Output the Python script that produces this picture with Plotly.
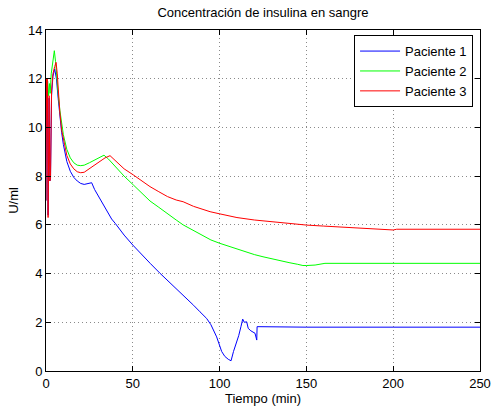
import plotly.graph_objects as go

# Paciente 1
t1 = [0, 0.3, 0.8, 1.2, 1.8, 2.2, 2.6, 3.2, 4, 5, 6, 7, 8, 9, 10, 12, 14, 16, 18, 20, 22, 24,
      26.3, 28, 31, 34, 37.8, 40, 45, 50, 55, 60, 65.7, 70, 75, 80, 85, 88.7, 92.5, 95, 98.3,
      101.2, 103, 105, 106.6, 108, 109.8, 111, 112.3, 113.3, 114.2, 115.6, 116.5, 118, 120.4,
      121.4, 121.6, 150, 200, 250]
y1 = [7.0, 11.9, 11.9, 6.4, 11.2, 7.8, 7.9, 11.3, 12.1, 12.4, 12.0, 11.2, 10.4, 9.8, 9.3, 8.6,
      8.2, 7.95, 7.8, 7.7, 7.66, 7.68, 7.73, 7.45, 7.08, 6.7, 6.24, 6.05, 5.58, 5.17, 4.78, 4.42,
      4.01, 3.72, 3.4, 3.05, 2.7, 2.43, 2.16, 1.9, 1.4, 0.8, 0.6, 0.48, 0.42, 0.8, 1.14, 1.45,
      1.82, 2.13, 2.0, 2.02, 1.75, 1.65, 1.55, 1.27, 1.82, 1.8, 1.8, 1.8]

# Paciente 2
t2 = [0, 0.5, 1.0, 1.5, 2.0, 2.4, 3, 4, 4.8, 5.5, 6, 7, 8, 9, 10, 12, 14, 16, 18, 20, 22, 25,
      28, 31, 33.4, 36, 40.7, 45, 50.3, 55, 59.9, 65, 69.5, 75, 79, 85, 90, 95, 100.2, 110, 120,
      125, 130, 140, 145, 148, 150, 155, 160.7, 200, 250]
y2 = [12.0, 12.0, 11.9, 11.3, 11.8, 11.4, 12.2, 12.8, 13.15, 12.7, 12.2, 11.4, 10.7, 10.1, 9.7,
      9.1, 8.75, 8.55, 8.45, 8.43, 8.45, 8.55, 8.67, 8.78, 8.86, 8.7, 8.32, 8.0, 7.64, 7.3,
      6.98, 6.72, 6.47, 6.2, 6.0, 5.77, 5.55, 5.38, 5.24, 5.0, 4.78, 4.69, 4.6, 4.45,
      4.38, 4.33, 4.33, 4.35, 4.42, 4.42, 4.42]

# Paciente 3
t3 = [0, 0.3, 0.8, 1.2, 1.8, 2.2, 2.6, 3.2, 4, 5, 5.8, 6.5, 7, 8, 9, 10, 12, 14, 16, 18, 20,
      22, 25, 28, 31, 34, 36.9, 40, 45, 50.3, 55, 59.9, 65, 70, 75, 79, 85, 90, 94.5, 100.2,
      110, 120, 125, 130, 140, 150.2, 160, 175, 190, 200, 202, 250]
y3 = [7.0, 12.0, 12.0, 6.3, 11.3, 7.8, 7.9, 11.5, 12.2, 12.5, 12.67, 12.2, 11.6, 10.6, 9.9,
      9.5, 8.85, 8.5, 8.3, 8.18, 8.14, 8.16, 8.3, 8.45, 8.6, 8.75, 8.84, 8.62, 8.3, 8.05, 7.8,
      7.57, 7.36, 7.16, 7.02, 6.95, 6.76, 6.63, 6.54, 6.45, 6.3, 6.2, 6.16, 6.12, 6.05,
      5.99, 5.95, 5.88, 5.83, 5.79, 5.82, 5.82]

names = ["Paciente 1", "Paciente 2", "Paciente 3"]
colors = ["#0000ff", "#00ff00", "#ff0000"]

x_ticks = [0, 50, 100, 150, 200, 250]
y_ticks = [0, 2, 4, 6, 8, 10, 12, 14]

FONT = "Arial, Liberation Sans, Helvetica, sans-serif"

fig = go.Figure()
for t, y, n, c in zip([t1, t2, t3], [y1, y2, y3], names, colors):
    fig.add_trace(go.Scatter(x=t, y=y, mode="lines", name=n,
                             line=dict(color=c, width=1)))

axis_common = dict(
    showline=True, linecolor="black", linewidth=1, mirror="all",
    ticks="inside", ticklen=5, tickcolor="black",
    showgrid=True, gridcolor="#8a8a8a", griddash="1px,3px", gridwidth=1,
    zeroline=False, automargin=False,
    tickfont=dict(size=13, color="black", family=FONT),
)

fig.update_xaxes(range=[0, 250], tickvals=x_ticks, **axis_common,
                 title=dict(text="Tiempo (min)", font=dict(size=13, color="black", family=FONT),
                            standoff=2))
fig.update_yaxes(range=[0, 14], tickvals=y_ticks, **axis_common,
                 title=dict(text="U/ml", font=dict(size=13, color="black", family=FONT),
                            standoff=6))

fig.update_layout(
    width=492, height=409,
    margin=dict(l=46, r=12, t=30, b=38),
    paper_bgcolor="white", plot_bgcolor="white",
    font=dict(family=FONT, size=13, color="black"),
    title=dict(text="Concentración de insulina en sangre", x=0.5, xanchor="center",
               xref="paper", y=1 - 12 / 409, yanchor="middle",
               font=dict(size=13, color="black", family=FONT)),
    legend=dict(x=0.984, y=0.985, xanchor="right", yanchor="top",
                bordercolor="black", borderwidth=1, bgcolor="white",
                font=dict(size=13, color="black", family=FONT),
                itemwidth=40, tracegroupgap=0),
    showlegend=True,
)

fig.write_html("out.html", config={"displayModeBar": False},
               post_script="document.body.style.margin='0';document.body.style.overflow='hidden';")
